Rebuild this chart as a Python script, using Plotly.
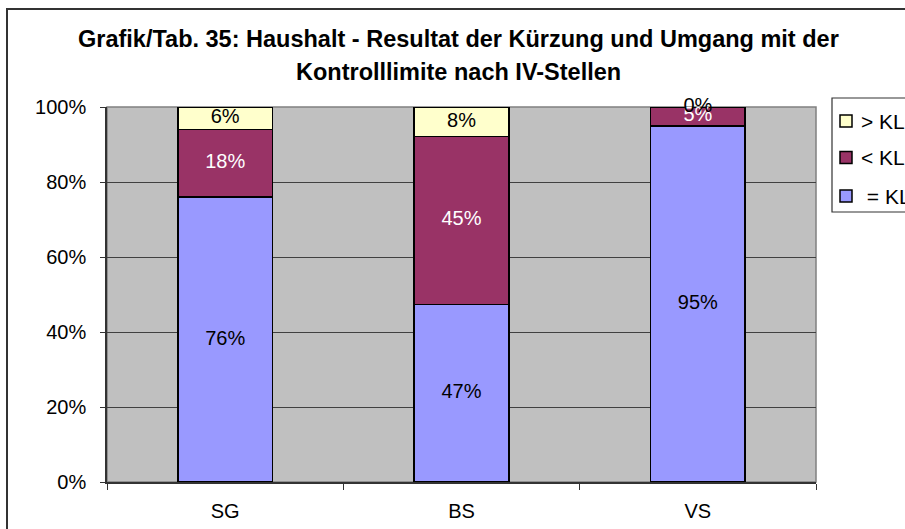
import numpy as np
import plotly.graph_objects as go

categories = ["SG", "BS", "VS"]
eq_kl = [76.0, 47.4, 95.0]
lt_kl = [18.0, 44.7, 5.0]
gt_kl = [6.0, 7.9, 0.0]
series_names = ["\u00a0= KL", "< KL", "> KL"]
y_ticks = [0, 20, 40, 60, 80, 100]
title_lines = ["Grafik/Tab. 35: Haushalt - Resultat der Kürzung und Umgang mit der",
               "Kontrolllimite nach IV-Stellen"]

colors = ["#9999FF", "#993366", "#FFFFCC"]
text_colors = ["black", "white", "black"]
FONT = "Liberation Sans, Arial, sans-serif"

series = [eq_kl, lt_kl, gt_kl]
fig = go.Figure()
for vals, name, col in zip(series, series_names, colors):
    fig.add_trace(go.Bar(
        x=categories, y=vals, name=name, showlegend=False,
        marker=dict(color=col, line=dict(color="black", width=1.5)),
        width=0.4, hoverinfo="skip"))

# labels centred in each segment (computed from the data)
bottom = np.zeros(len(categories))
for vals, tc in zip(series, text_colors):
    v = np.array(vals)
    mid = bottom + v / 2
    fig.add_trace(go.Scatter(
        x=categories, y=mid, mode="text",
        text=[f"{round(x):.0f}%" for x in v],
        textfont=dict(family=FONT, size=20, color=tc),
        showlegend=False, hoverinfo="skip", cliponaxis=False))
    bottom = bottom + v

W, H = 905, 529
L, R, T, B = 107, 89, 107, 47
pw = W - L - R
ph = H - T - B

def px_x(p):
    return (p - L) / pw

def px_y(p):
    return (H - B - p) / ph

shapes = [
    # plot area border (gray)
    dict(type="rect", xref="paper", yref="paper", x0=0, x1=1, y0=0, y1=1,
         line=dict(color="#808080", width=1.5), layer="below"),
    # chart outer border
    dict(type="rect", xref="paper", yref="paper",
         x0=px_x(7), x1=px_x(W + 20), y0=px_y(H + 20), y1=px_y(9),
         line=dict(color="#333333", width=2), fillcolor="rgba(0,0,0,0)"),
    # legend box
    dict(type="rect", xref="paper", yref="paper",
         x0=px_x(832), x1=px_x(W + 20), y0=px_y(212), y1=px_y(98),
         line=dict(color="#333333", width=1.2), fillcolor="white"),
]

annotations = [
    dict(text=f"<b>{title_lines[0]}</b>", xref="paper", yref="paper",
         x=px_x(458), y=px_y(39), showarrow=False,
         font=dict(family=FONT, size=23.5, color="black"), xanchor="center", yanchor="middle"),
    dict(text=f"<b>{title_lines[1]}</b>", xref="paper", yref="paper",
         x=px_x(458), y=px_y(72), showarrow=False,
         font=dict(family=FONT, size=23.5, color="black"), xanchor="center", yanchor="middle"),
]

# legend (top to bottom: > KL, < KL, = KL)
leg_y = [196, 157.5, 121]
for name, col, yy in zip(series_names, colors, leg_y):
    shapes.append(dict(type="rect", xref="paper", yref="paper",
                       x0=px_x(840), x1=px_x(852), y0=px_y(yy + 6), y1=px_y(yy - 6),
                       line=dict(color="black", width=1.5), fillcolor=col))
    annotations.append(dict(text=name, xref="paper", yref="paper",
                            x=px_x(859), y=px_y(yy), showarrow=False,
                            xanchor="left", yanchor="middle",
                            font=dict(family=FONT, size=21, color="black")))

fig.update_layout(
    width=W, height=H,
    margin=dict(l=L, r=R, t=T, b=B, autoexpand=False),
    barmode="stack",
    paper_bgcolor="white",
    plot_bgcolor="#C0C0C0",
    font=dict(family=FONT, size=20, color="black"),
    showlegend=False,
    shapes=shapes,
    annotations=annotations,
    xaxis=dict(type="category", tickson="boundaries", ticks="outside", ticklen=6,
               tickcolor="#333333", showline=True, linecolor="#333333", linewidth=1.5,
               showgrid=False, tickfont=dict(family=FONT, size=20), ticklabelstandoff=10,
               range=[-0.5, 2.5]),
    yaxis=dict(range=[0, 100], tickvals=y_ticks, ticktext=[f"{t}%" for t in y_ticks],
               ticks="outside", ticklen=5, tickcolor="#333333",
               showline=True, linecolor="#333333", linewidth=1.5,
               showgrid=True, gridcolor="#404040", gridwidth=1,
               zeroline=False, tickfont=dict(family=FONT, size=20), ticklabelstandoff=10),
)

fig.write_html("out.html", config={"displayModeBar": False},
               post_script="document.body.style.margin='0';")
